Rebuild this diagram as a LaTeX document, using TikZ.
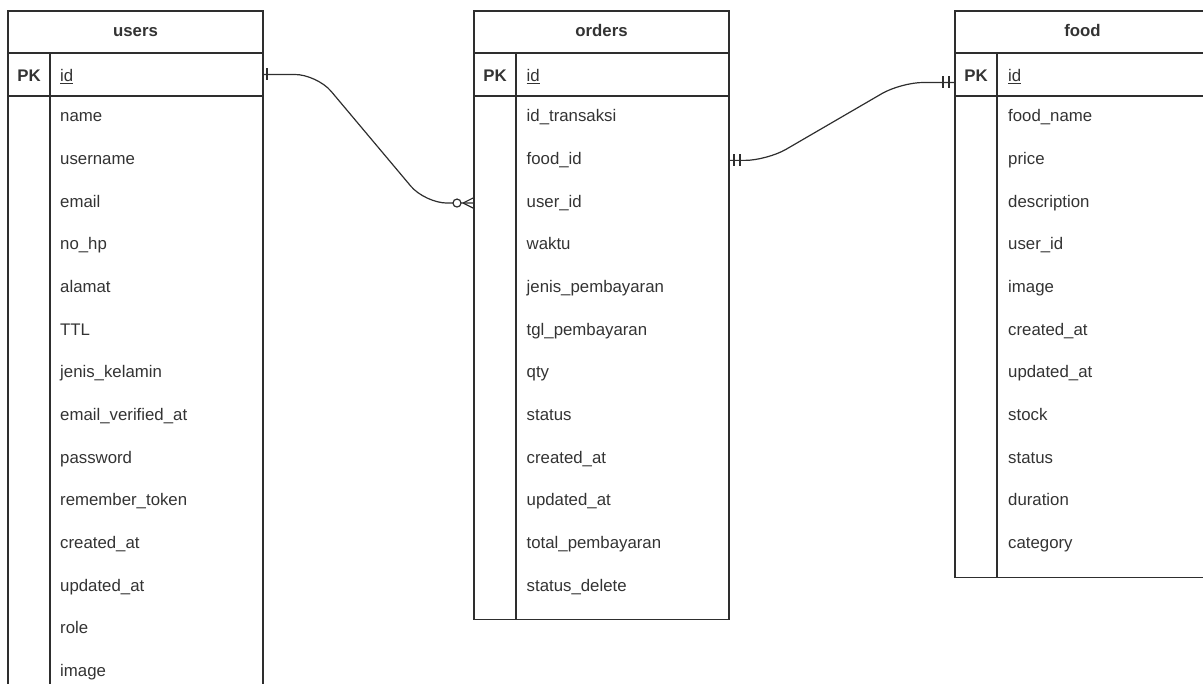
\documentclass[tikz,border=0pt]{standalone}
\usepackage{fontspec}
\setmainfont{Liberation Sans}
\usepackage{tikz}
\usetikzlibrary{positioning}
\definecolor{erline}{HTML}{2E2E2E}
\definecolor{ertext}{HTML}{333333}

\begin{document}
\begin{tikzpicture}[
  x=1pt, y=-1pt,
  font=\fontsize{16.8}{20}\selectfont,
  tbl/.style={draw=erline, line width=1.2pt, minimum width=255pt,
    inner sep=0pt, outer sep=0pt, text=ertext,
    text height=12pt, text depth=3.5pt},
  tblhead/.style={tbl, minimum height=42pt,
    font=\fontsize{16.8}{20}\selectfont\bfseries},
  keyrow/.style={tbl, minimum height=43pt},
  tblbody/.style={tbl, minimum height={42.65*#1+12}},
  field/.style={anchor=base west, inner sep=0pt, text=ertext,
    text height=12pt, text depth=3.5pt},
  keytag/.style={anchor=base, inner sep=0pt, text=ertext,
    font=\fontsize{16.8}{20}\selectfont\bfseries},
  relline/.style={draw=erline, line width=1.2pt, rounded corners=22pt},
  bar/.style={draw=erline, line width=1.2pt}
]
\path[use as bounding box] (0,0) rectangle (1203,684);
\clip (0,0) rectangle (1203,684);

% users
\node[tblhead, anchor=north west] (users) at (8,11) {users};
\node[keyrow, below=0pt of users] (users-pk) {};
\node[tblbody=14, below=0pt of users-pk] (users-body) {};
\draw[bar] ([xshift=42pt]users-pk.north west) -- ([xshift=42pt]users-body.south west);
\node[keytag] (users-key) at (29,82) {PK};
\node[field] (users-id) at (60,82) {\underline{id}};
\foreach \f [count=\i] in {name, username, email, no\_hp, alamat, TTL,
    jenis\_kelamin, email\_verified\_at, password, remember\_token,
    created\_at, updated\_at, role, image}
  \node[field] (users-\i) at (60, 79.35+42.65*\i) {\f};

% orders
\node[tblhead, anchor=north west] (orders) at (474,11) {orders};
\node[keyrow, below=0pt of orders] (orders-pk) {};
\node[tblbody=12, below=0pt of orders-pk] (orders-body) {};
\draw[bar] ([xshift=42pt]orders-pk.north west) -- ([xshift=42pt]orders-body.south west);
\node[keytag] (orders-key) at (495,82) {PK};
\node[field] (orders-id) at (526.5,82) {\underline{id}};
\foreach \f [count=\i] in {id\_transaksi, food\_id, user\_id, waktu,
    jenis\_pembayaran, tgl\_pembayaran, qty, status, created\_at,
    updated\_at, total\_pembayaran, status\_delete}
  \node[field] (orders-\i) at (526.5, 79.35+42.65*\i) {\f};

% food
\node[tblhead, anchor=north west] (food) at (955,11) {food};
\node[keyrow, below=0pt of food] (food-pk) {};
\node[tblbody=11, below=0pt of food-pk] (food-body) {};
\draw[bar] ([xshift=42pt]food-pk.north west) -- ([xshift=42pt]food-body.south west);
\node[keytag] (food-key) at (976,82) {PK};
\node[field] (food-id) at (1008,82) {\underline{id}};
\foreach \f [count=\i] in {food\_name, price, description, user\_id, image,
    created\_at, updated\_at, stock, status, duration, category}
  \node[field] (food-\i) at (1008, 79.35+42.65*\i) {\f};

% relations
\coordinate (fk-user) at (orders-body.west |- orders-3);
\coordinate (fk-food) at (orders-body.east |- orders-2);
\coordinate (pk-food) at ([yshift=-8pt]food-pk.west);

\draw[relline] (users-pk.east) -- ++(54,0) -- ([xshift=-49pt]fk-user) -- (fk-user);
\draw[relline] (fk-food) -- ++(38,0) -- ([xshift=-54pt]pk-food) -- (pk-food);

% one (users.id)
\draw[bar] ([xshift=4pt,yshift=6pt]users-pk.east) -- ([xshift=4pt,yshift=-6pt]users-pk.east);
% zero or many (orders.user_id)
\draw[bar] ([xshift=-11pt]fk-user) -- ([yshift=5.5pt]fk-user)
  ([xshift=-11pt]fk-user) -- ([yshift=-5.5pt]fk-user);
\draw[bar, fill=white] ([xshift=-17pt]fk-user) circle (4pt);
% one and only one (orders.food_id)
\draw[bar] ([xshift=5pt,yshift=6pt]fk-food) -- ([xshift=5pt,yshift=-6pt]fk-food)
  ([xshift=11pt,yshift=6pt]fk-food) -- ([xshift=11pt,yshift=-6pt]fk-food);
% one and only one (food.id)
\draw[bar] ([xshift=-6pt,yshift=6pt]pk-food) -- ([xshift=-6pt,yshift=-6pt]pk-food)
  ([xshift=-12pt,yshift=6pt]pk-food) -- ([xshift=-12pt,yshift=-6pt]pk-food);
\end{tikzpicture}
\end{document}
